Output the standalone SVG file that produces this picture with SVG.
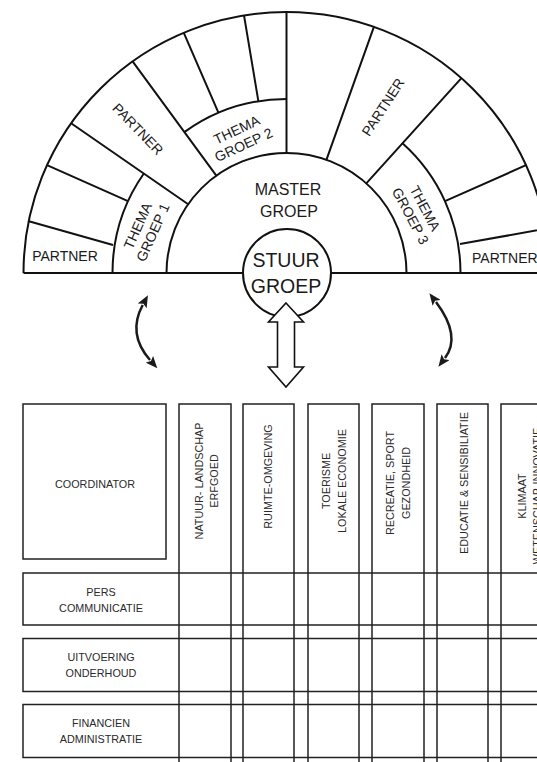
<svg xmlns="http://www.w3.org/2000/svg" width="537" height="762" viewBox="0 0 537 762">
<defs>
<style>
.ln{fill:none;stroke:#111;stroke-width:2}
.tl{fill:none;stroke:#222;stroke-width:1.5}
.t{font-family:"Liberation Sans",Arial,sans-serif;fill:#1a1a1a;text-anchor:middle}
.top{font-size:14px}
.tab{font-size:10.8px;fill:#2a2a2a}
.arr{fill:none;stroke:#1a1a1a;stroke-width:2.5;marker-start:url(#ah);marker-end:url(#ah)}
</style>
<marker id="ah" viewBox="0 0 12 10" refX="1" refY="5" markerWidth="12" markerHeight="10" markerUnits="userSpaceOnUse" orient="auto-start-reverse">
<path d="M0,0 L12,5 L0,10 L2.5,5 z" fill="#1a1a1a"/>
</marker>
</defs>
<rect width="537" height="762" fill="#fff"/>

<g id="ring">
<path class="ln" d="M23.5,273 A263,261 0 0 1 549.5,273"/>
<path class="ln" d="M23.5,273 H537"/>
<path class="ln" d="M166.5,273 A120,120 0 0 1 406.5,273"/>
<path class="ln" d="M112.5,273 A174,174 0 0 1 144,173.2"/>
<path class="ln" d="M184.7,131.9 A174,174 0 0 1 286.5,99"/>
<path class="ln" d="M402.2,143.1 A174,174 0 0 1 460.5,273"/>
<path class="ln" d="M28,221 L113,245 M128,201.1 L47,165.2 M188.2,204.2 L71.1,123.3 M216.3,175.7 L132.6,61.3 M218.5,112.8 L183.7,32.7 M258.4,101.3 L244,15.4 M286.5,153 L286.5,12 M326.4,159.8 L373.9,26.8 M366.3,183.4 L461.4,78.1 M445,201.1 L526,165.2 M460,244 L550,228"/>
</g>

<g id="partner-1"><text class="t top" x="65" y="260.5">PARTNER</text></g>
<g id="partner-2"><text class="t top" transform="translate(138,129) rotate(46)" y="5">PARTNER</text></g>
<g id="partner-3"><text class="t top" transform="translate(383,107) rotate(-57)" y="5">PARTNER</text></g>
<g id="partner-4"><text class="t top" x="472" y="262.5" style="text-anchor:start">PARTNER</text></g>

<g id="thema-1"><text class="t top" transform="translate(145,229) rotate(-66)"><tspan x="0" y="-3">THEMA</tspan><tspan x="0" y="13.5">GROEP 1</tspan></text></g>
<g id="thema-2"><text class="t top" transform="translate(240,137) rotate(-25)"><tspan x="0" y="-3">THEMA</tspan><tspan x="0" y="13.5">GROEP 2</tspan></text></g>
<g id="thema-3"><text class="t top" transform="translate(418,212) rotate(62)"><tspan x="0" y="-3">THEMA</tspan><tspan x="0" y="13.5">GROEP 3</tspan></text></g>

<g id="master"><text class="t" style="font-size:16px"><tspan x="288" y="195">MASTER</tspan><tspan x="289" y="217">GROEP</tspan></text></g>

<g id="stuur">
<circle cx="287" cy="273" r="44" fill="#fff" stroke="#111" stroke-width="2"/>
<text class="t" style="font-size:19.5px"><tspan x="286" y="267">STUUR</tspan><tspan x="286" y="293">GROEP</tspan></text>
</g>

<g id="connectors">
<path class="arr" d="M142.7,305 Q127,334 150,360"/>
<path class="arr" d="M436,302 Q461.5,336 445,358"/>
<polygon points="286,303 303.5,322 294.5,322 294.5,367 303.5,367 286,387 268.5,367 277.5,367 277.5,322 268.5,322" fill="#fff" stroke="#111" stroke-width="1.6" stroke-linejoin="miter"/>
</g>

<g id="coordinator">
<rect class="tl" x="23" y="404" width="143" height="155"/>
<text class="t tab" x="95" y="488">COORDINATOR</text>
</g>

<g id="columns">
<path class="tl" d="M179,762 V404 H231 V762 M243,762 V404 H294 V762 M308,762 V404 H359 V762 M372,762 V404 H424 V762 M437,762 V404 H488 V762 M501,762 V404 H553"/>
</g>
<g id="col-1"><text class="t tab" transform="translate(205,481) rotate(-90)"><tspan x="0" y="-2">NATUUR- LANDSCHAP</tspan><tspan x="0" y="13">ERFGOED</tspan></text></g>
<g id="col-2"><text class="t tab" transform="translate(268.5,476.5) rotate(-90)" y="3.5">RUIMTE-OMGEVING</text></g>
<g id="col-3"><text class="t tab" transform="translate(333.5,481) rotate(-90)"><tspan x="0" y="-3.5">TOERISME</tspan><tspan x="0" y="12.5">LOKALE ECONOMIE</tspan></text></g>
<g id="col-4"><text class="t tab" transform="translate(398,483) rotate(-90)"><tspan x="0" y="-4">RECREATIE, SPORT</tspan><tspan x="0" y="12">GEZONDHEID</tspan></text></g>
<g id="col-5"><text class="t tab" transform="translate(462.5,483) rotate(-90)" y="5">EDUCATIE &amp; SENSIBILIATIE</text></g>
<g id="col-6"><text class="t tab" transform="translate(527,496) rotate(-90)"><tspan x="0" y="-1">KLIMAAT</tspan><tspan x="0" y="14">WETENSCHAP-INNOVATIE</tspan></text></g>

<g id="row-pers">
<path class="tl" d="M537,573 H23 V625 H537"/>
<text class="t tab"><tspan x="101" y="596">PERS</tspan><tspan x="101" y="611.5">COMMUNICATIE</tspan></text>
</g>
<g id="row-uitvoering">
<path class="tl" d="M537,638.5 H23 V691.5 H537"/>
<text class="t tab"><tspan x="101" y="661">UITVOERING</tspan><tspan x="101" y="676.5">ONDERHOUD</tspan></text>
</g>
<g id="row-financien">
<path class="tl" d="M537,704.5 H23 V757.5 H537"/>
<text class="t tab"><tspan x="101" y="727">FINANCIEN</tspan><tspan x="101" y="742.5">ADMINISTRATIE</tspan></text>
</g>
</svg>
